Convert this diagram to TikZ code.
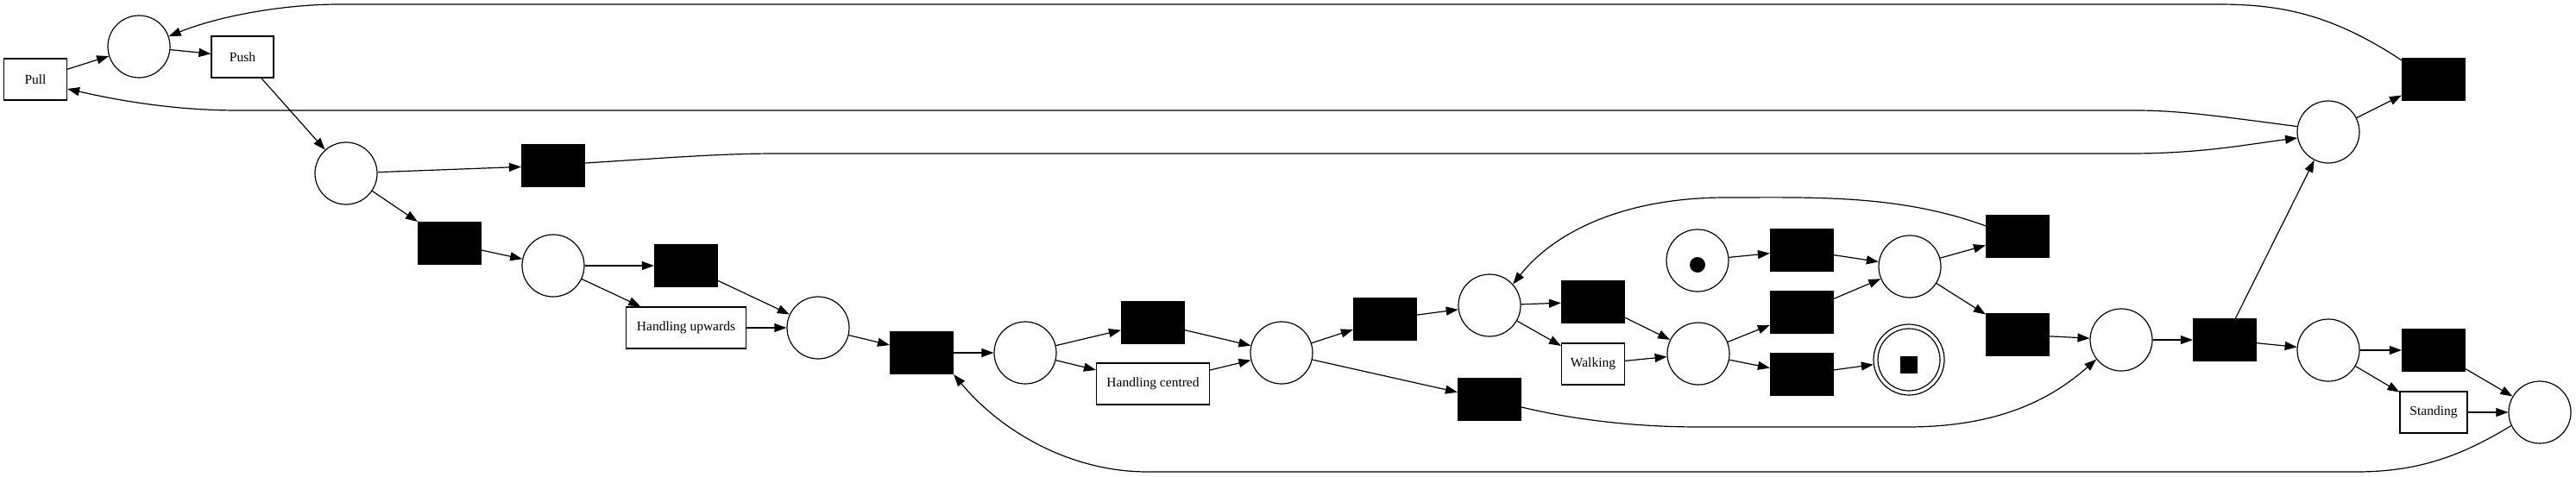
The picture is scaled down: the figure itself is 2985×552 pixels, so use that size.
\documentclass[tikz,border=0pt]{standalone}
\usepackage{fontspec}
\setmainfont{Liberation Serif}
\usetikzlibrary{arrows.meta}
\begin{document}
\begin{tikzpicture}[x=1pt,y=-1pt,
  every path/.style={line width=1.2pt},
  place/.style={circle,draw,fill=white,minimum size=72pt,inner sep=0pt,line width=1.2pt},
  trans/.style={rectangle,draw,fill=black,minimum width=73pt,minimum height=49pt,inner sep=0pt,line width=1.2pt},
  lab/.style={rectangle,draw,fill=white,minimum height=48pt,inner sep=0pt,line width=1.2pt,font=\fontsize{15.5}{18}\selectfont},
  arr/.style={-{Triangle[length=14pt,width=10pt]},line width=1.2pt}]
\useasboundingbox (0,0) rectangle (2985,552);
% nodes
\node[lab,minimum width=73pt] (Pull) at (41,92) {Pull};
\node[place] (p1) at (161,54) {};
\node[lab,minimum width=72pt] (Push) at (281,66) {Push};
\node[place] (p2) at (401,201) {};
\node[trans] (ta) at (641,192) {};
\node[trans] (tb) at (521,282) {};
\node[place] (p3) at (641,308) {};
\node[trans] (tc) at (795,308) {};
\node[lab,minimum width=139pt] (HU) at (795,380) {Handling upwards};
\node[place] (p4) at (948,380) {};
\node[trans] (td) at (1068,409) {};
\node[place] (p5) at (1188,409) {};
\node[trans] (te) at (1336,374) {};
\node[lab,minimum width=131pt] (HC) at (1336,445) {Handling centred};
\node[place] (p6) at (1485,409) {};
\node[trans] (tf) at (1605,370) {};
\node[place] (p7) at (1726,354) {};
\node[trans] (tg) at (1846,350) {};
\node[lab,minimum width=73pt] (Walk) at (1846,422) {Walking};
\node[trans] (th) at (1726,463) {};
\node[place] (ptok) at (1967,302) {};
\fill (1967,307) circle (9pt);
\node[trans] (tj) at (2088,290) {};
\node[place] (p8) at (2213,309) {};
\node[trans] (tk) at (2338,274) {};
\node[trans] (tl) at (2088,362) {};
\node[place] (p9) at (1968,410) {};
\node[trans] (tm) at (2088,434) {};
\node[place,minimum size=82pt] (pend) at (2212,417) {};
\draw (pend.center) circle (36pt);
\fill (2202,413) rectangle (2222,433);
\node[trans] (tn) at (2338,388) {};
\node[place] (p10) at (2458,394) {};
\node[trans] (to) at (2578,394) {};
\node[place] (p11) at (2698,406) {};
\node[trans] (tp) at (2820,406) {};
\node[lab,minimum width=78pt] (Stand) at (2820,478) {Standing};
\node[place] (p12) at (2943,478) {};
\node[place] (ptr) at (2698,153) {};
\node[trans] (ti) at (2820,92) {};
% straight arcs
\draw[arr] (Pull) -- (p1);
\draw[arr] (p1) -- (Push);
\draw[arr] (Push) -- (p2);
\draw[arr] (p2) -- (ta);
\draw[arr] (p2) -- (tb);
\draw[arr] (tb) -- (p3);
\draw[arr] (p3) -- (tc);
\draw[arr] (p3) -- (HU);
\draw[arr] (tc) -- (p4);
\draw[arr] (HU) -- (p4);
\draw[arr] (p4) -- (td);
\draw[arr] (td) -- (p5);
\draw[arr] (p5) -- (te);
\draw[arr] (p5) -- (HC);
\draw[arr] (te) -- (p6);
\draw[arr] (HC) -- (p6);
\draw[arr] (p6) -- (tf);
\draw[arr] (p6) -- (th);
\draw[arr] (tf) -- (p7);
\draw[arr] (p7) -- (tg);
\draw[arr] (p7) -- (Walk);
\draw[arr] (tg) -- (p9);
\draw[arr] (Walk) -- (p9);
\draw[arr] (p9) -- (tl);
\draw[arr] (p9) -- (tm);
\draw[arr] (ptok) -- (tj);
\draw[arr] (tj) -- (p8);
\draw[arr] (tl) -- (p8);
\draw[arr] (tm) -- (pend);
\draw[arr] (p8) -- (tk);
\draw[arr] (p8) -- (tn);
\draw[arr] (tn) -- (p10);
\draw[arr] (p10) -- (to);
\draw[arr] (to) -- (p11);
\draw[arr] (to) -- (ptr);
\draw[arr] (p11) -- (tp);
\draw[arr] (p11) -- (Stand);
\draw[arr] (tp) -- (p12);
\draw[arr] (Stand) -- (p12);
\draw[arr] (ptr) -- (ti);
% curved arcs
\draw[arr] ([yshift=-3pt]ti.north west) .. controls (2700,15) and (2640,5) .. (2570,5)
  -- (393,5) .. controls (330,5) and (255,18) .. (p1.19);
\draw[arr] (ptr.170) .. controls (2560,133) and (2520,128) .. (2475,128)
  -- (277,128) .. controls (200,128) and (135,116) .. ([yshift=-11pt]Pull.east);
\draw[arr] ([yshift=3pt]ta.east) .. controls (760,184) and (830,178) .. (900,178)
  -- (2467,178) .. controls (2550,178) and (2600,168) .. (ptr.191);
\draw[arr] ([yshift=-13pt]tk.north west) .. controls (2200,225) and (2100,229) .. (2000,229)
  .. controls (1880,229) and (1800,270) .. (p7.42);
\draw[arr] ([yshift=-9pt]th.east) .. controls (1830,488) and (1900,495) .. (1970,495)
  -- (2210,495) .. controls (2320,495) and (2380,460) .. (p10.218);
\draw[arr] (p12.205) .. controls (2850,530) and (2800,547) .. (2730,547)
  -- (1330,547) .. controls (1240,547) and (1160,500) .. (td.south east);
\end{tikzpicture}
\end{document}
